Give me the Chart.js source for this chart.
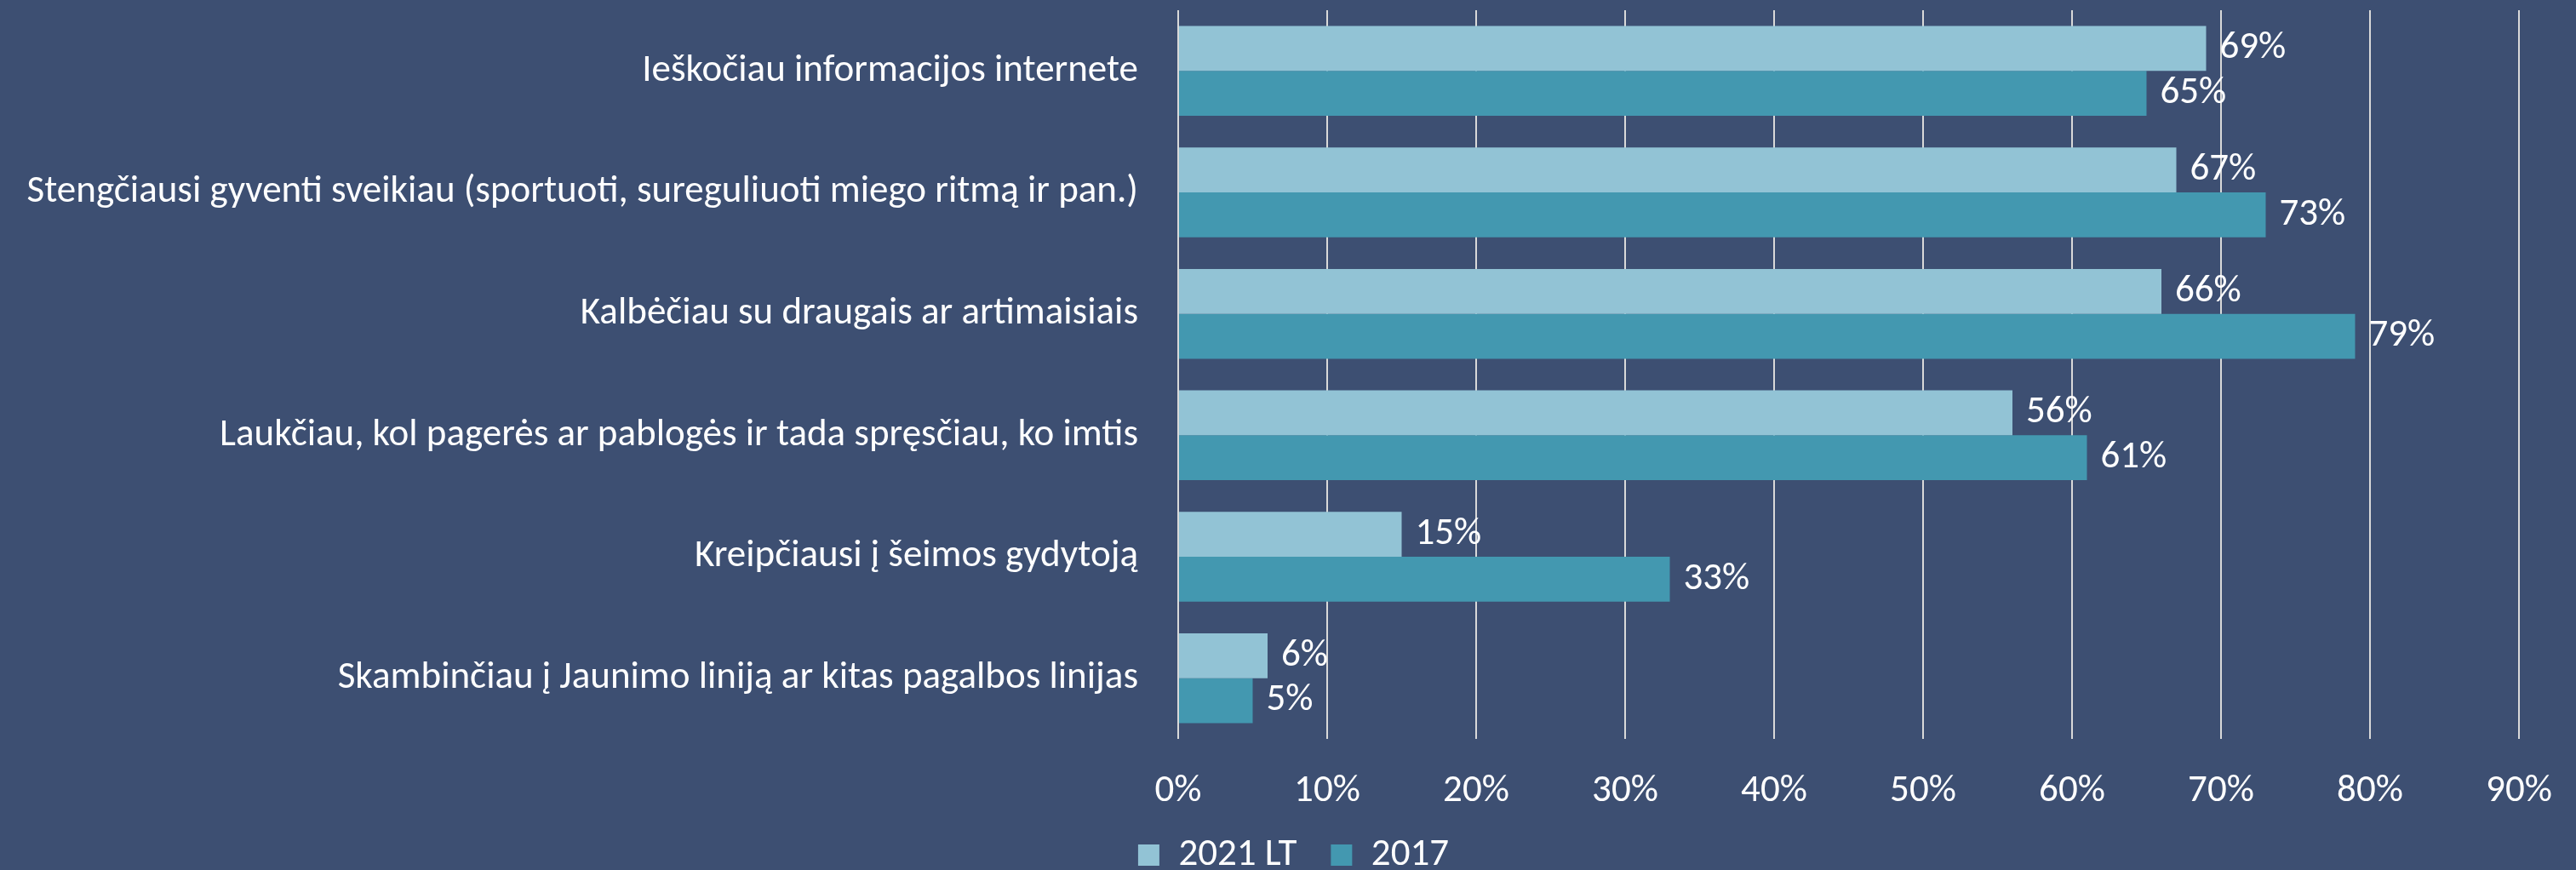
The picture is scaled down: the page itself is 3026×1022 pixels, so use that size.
<!DOCTYPE html>
<html>
<head>
  <title>Pagalbos paieška</title>
  <script src="https://cdn.jsdelivr.net/npm/chart.js"></script>
  <style>
    body { margin: 0; background: #3d4f72; }
    canvas { display: block; }
  </style>
</head>
<body>
  <canvas id="chart" width="3026" height="1022"></canvas>

  <script>
    // data
    const categories = [
      'Ieškočiau informacijos internete',
      'Stengčiausi gyventi sveikiau (sportuoti, sureguliuoti miego ritmą ir pan.)',
      'Kalbėčiau su draugais ar artimaisiais',
      'Laukčiau, kol pagerės ar pablogės ir tada spręsčiau, ko imtis',
      'Kreipčiausi į šeimos gydytoją',
      'Skambinčiau į Jaunimo liniją ar kitas pagalbos linijas'
    ];
    const seriesNames = ['2021 LT', '2017'];
    const values2021 = [69, 67, 66, 56, 15, 6];
    const values2017 = [65, 73, 79, 61, 33, 5];
    const xTicks = [0, 10, 20, 30, 40, 50, 60, 70, 80, 90];

    const FONT = 'Carlito, Lato, sans-serif';
    const FS = 45;
    const LEGEND_H = 80;

    // simple value labels at the end of each bar
    const barLabels = {
      id: 'barLabels',
      afterDatasetsDraw(chart) {
        const ctx = chart.ctx;
        ctx.save();
        ctx.fillStyle = '#ffffff';
        ctx.font = FS + 'px ' + FONT;
        ctx.textAlign = 'left';
        ctx.textBaseline = 'middle';
        chart.data.datasets.forEach((ds, i) => {
          chart.getDatasetMeta(i).data.forEach((bar, j) => {
            ctx.fillText(ds.data[j] + '%', bar.x + 16, bar.y);
          });
        });
        ctx.restore();
      }
    };

    // nudge the legend a little to the right, like the original
    const legendShift = {
      id: 'legendShift',
      afterLayout(chart) {
        chart.legend.left += 40;
        chart.legend.right += 40;
      }
    };

    new Chart(document.getElementById('chart'), {
      type: 'bar',
      data: {
        labels: categories,
        datasets: [{
          label: seriesNames[0],
          data: values2021,
          backgroundColor: '#92c3d5'
        }, {
          label: seriesNames[1],
          data: values2017,
          backgroundColor: '#4398b0'
        }]
      },
      options: {
        indexAxis: 'y',
        responsive: false,
        animation: false,
        devicePixelRatio: 1,
        barPercentage: 1,
        categoryPercentage: 0.739,
        layout: { padding: { top: 12, right: 67, left: 0, bottom: 0 } },
        plugins: {
          tooltip: { enabled: false },
          legend: {
            position: 'bottom',
            maxHeight: LEGEND_H,
            labels: {
              color: '#ffffff',
              font: { family: FONT, size: FS },
              boxWidth: 25,
              boxHeight: 25,
              padding: 40
            }
          }
        },
        scales: {
          x: {
            min: 0,
            max: 90,
            afterBuildTicks: s => { s.ticks = xTicks.map(v => ({ value: v })); },
            afterFit: s => { s.height = 1022 - LEGEND_H - 868; s.paddingLeft = 0; s.paddingRight = 0; },
            grid: { color: '#d9d9d9', lineWidth: 2, drawTicks: false },
            border: { display: false },
            ticks: {
              color: '#ffffff',
              font: { family: FONT, size: FS },
              padding: 35,
              maxRotation: 0,
              callback: v => v + '%'
            }
          },
          y: {
            afterFit: s => { s.width = 1384; s.paddingTop = 0; s.paddingBottom = 0; },
            grid: { display: false },
            border: { display: false },
            ticks: {
              color: '#ffffff',
              font: { family: FONT, size: FS },
              padding: 39
            }
          }
        }
      },
      plugins: [barLabels, legendShift]
    });
  </script>
</body>
</html>
